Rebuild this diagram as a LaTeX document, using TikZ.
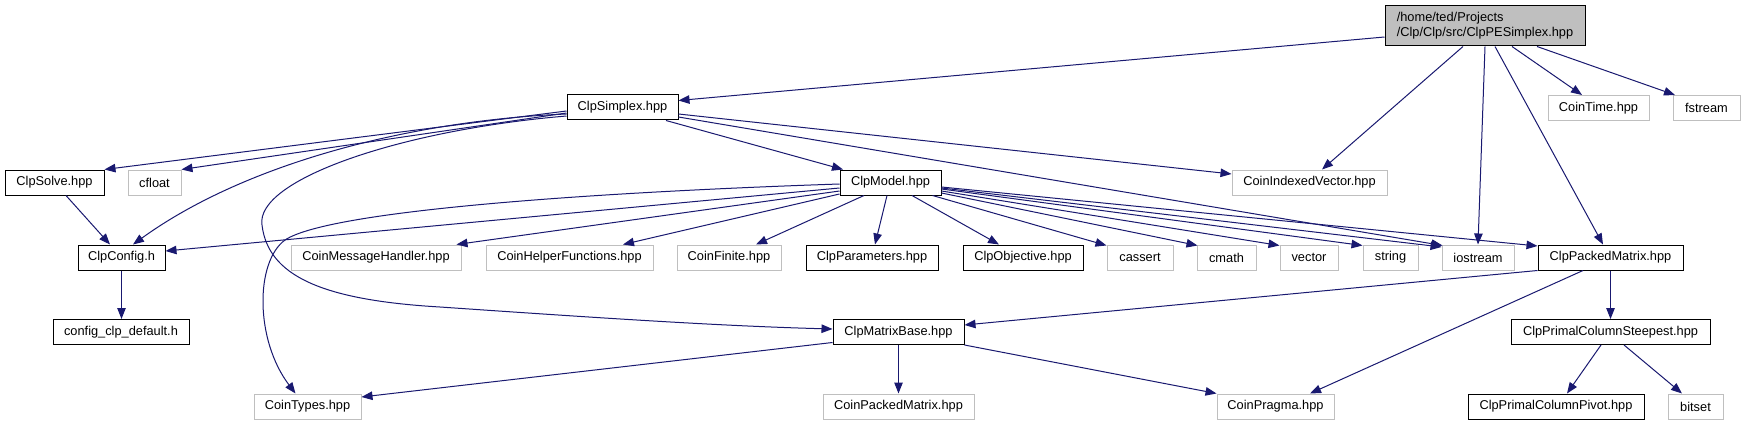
\documentclass[tikz,border=0pt]{standalone}
\usepackage{fontspec}
\setmainfont{Liberation Sans}
\usetikzlibrary{arrows.meta,calc}
\definecolor{edgeblue}{HTML}{191970}
\definecolor{greyb}{HTML}{BFBFBF}
\begin{document}
\begin{tikzpicture}[x=1pt,y=-1pt,
  box/.style={rectangle, inner sep=0pt, minimum height=25pt, font=\fontsize{12.8}{15}\selectfont, text=black, fill=white, line width=1pt},
  docbox/.style={box, draw=black},
  undocbox/.style={box, draw=greyb},
  rootbox/.style={box, draw=black, fill=greyb, minimum height=40pt, align=left},
  dep/.style={draw=edgeblue, line width=1pt, -{Triangle[length=11pt,width=8.5pt]}},
]
\useasboundingbox (0,0) rectangle (1745,425);
\fill[white] (0,0) rectangle (1745,425);

% rank 0
\node[rootbox, minimum width=200pt] (root) at (1485,26) {/home/ted/Projects\\/Clp/Clp/src/ClpPESimplex.hpp};
% rank 1
\node[docbox, minimum width=111pt] (simplex) at (622.5,107.5) {ClpSimplex.hpp};
\node[undocbox, minimum width=101pt] (cointime) at (1598.5,108) {CoinTime.hpp};
\node[undocbox, minimum width=67pt] (fstream) at (1706.5,108) {fstream};
% rank 2
\node[docbox, minimum width=99pt] (solve) at (54.5,182.5) {ClpSolve.hpp};
\node[undocbox, minimum width=53pt] (cfloat) at (154.5,182.5) {cfloat};
\node[docbox, minimum width=101pt] (model) at (890.5,182.5) {ClpModel.hpp};
\node[undocbox, minimum width=155pt] (civ) at (1309.5,182.5) {CoinIndexedVector.hpp};
% rank 3
\node[docbox, minimum width=87pt] (config) at (121.5,257.5) {ClpConfig.h};
\node[undocbox, minimum width=170pt] (cmh) at (376,257.5) {CoinMessageHandler.hpp};
\node[undocbox, minimum width=167pt] (chf) at (569.5,257.5) {CoinHelperFunctions.hpp};
\node[undocbox, minimum width=104pt] (cfin) at (729,257.5) {CoinFinite.hpp};
\node[docbox, minimum width=132pt] (params) at (872,257.5) {ClpParameters.hpp};
\node[docbox, minimum width=120pt] (obj) at (1023,257.5) {ClpObjective.hpp};
\node[undocbox, minimum width=66pt] (cassert) at (1140,257.5) {cassert};
\node[undocbox, minimum width=59pt] (cmath) at (1226.5,257.5) {cmath};
\node[undocbox, minimum width=58pt] (vector) at (1309,257.5) {vector};
\node[undocbox, minimum width=55pt] (string) at (1390.5,257.5) {string};
\node[undocbox, minimum width=72pt] (iostream) at (1478,257.5) {iostream};
\node[docbox, minimum width=145pt] (cpm) at (1610.5,257.5) {ClpPackedMatrix.hpp};
% rank 4
\node[docbox, minimum width=136pt] (cfgdef) at (121,332) {config\_clp\_default.h};
\node[docbox, minimum width=131pt] (mb) at (898.5,332) {ClpMatrixBase.hpp};
\node[docbox, minimum width=199pt] (steep) at (1610.5,332) {ClpPrimalColumnSteepest.hpp};
% rank 5
\node[undocbox, minimum width=107pt] (types) at (307.5,406.5) {CoinTypes.hpp};
\node[undocbox, minimum width=151pt] (coinpm) at (898.5,406.5) {CoinPackedMatrix.hpp};
\node[undocbox, minimum width=117pt] (pragma) at (1275.5,406.5) {CoinPragma.hpp};
\node[docbox, minimum width=176pt] (pivot) at (1556,406.5) {ClpPrimalColumnPivot.hpp};
\node[undocbox, minimum width=55pt] (bitset) at (1695.5,406.5) {bitset};

% edges from root
\draw[dep] ($(root.west)+(0,11)$) -- ($(simplex.east)+(0,-7)$);
\draw[dep] ($(root.south)+(-22,0)$) -- ($(civ.north)+(12.5,0)$);
\draw[dep] (root.south) -- (iostream.north);
\draw[dep] ($(root.south)+(10,0)$) -- ($(cpm.north)+(-7.5,0)$);
\draw[dep] ($(root.south)+(27,0)$) -- ($(cointime.north)+(-16.5,0)$);
\draw[dep] ($(root.south)+(52,0)$) -- ($(fstream.north)+(-31.5,0)$);

% edges from ClpSimplex
\draw[dep] ($(simplex.west)+(0,3.5)$) -- (solve.north east);
\draw[dep] ($(simplex.west)+(0,5.5)$) -- (cfloat.north east);
\draw[dep] ($(simplex.west)+(0,6.5)$) .. controls (420,120) and (250,160) .. ($(config.north)+(11.5,0)$);
\draw[dep] ($(simplex.west)+(0,8.5)$) .. controls (400,130) and (255,180) .. (262,225)
  .. controls (268,275) and (320,300) .. (440,307)
  .. controls (600,318) and (720,326) .. ($(mb.west)+(0,-3)$);
\draw[dep] ($(simplex.south)+(43.5,0)$) -- ($(model.north)+(-47.5,0)$);
\draw[dep] ($(simplex.east)+(0,6.5)$) -- ($(civ.west)+(0,-8.5)$);
\draw[dep] ($(simplex.east)+(0,9.5)$) -- ($(iostream.north west)+(1,1)$);

% ClpSolve, ClpConfig
\draw[dep] ($(solve.south)+(11.5,0)$) -- ($(config.north)+(-11.5,0)$);
\draw[dep] (config.south) -- (config.south |- cfgdef.north);

% edges from ClpModel
\draw[dep] ($(model.west)+(0,1.5)$) .. controls (600,192) and (330,210) .. (285,240)
  .. controls (255,262) and (255,340) .. ($(types.north)+(-12,0)$);
\draw[dep] ($(model.west)+(0,5.5)$) -- ($(config.east)+(0,-6.5)$);
\draw[dep] ($(model.west)+(0,8.5)$) -- ($(cmh.north east)+(-5,0)$);
\draw[dep] ($(model.west)+(0,11.5)$) -- ($(chf.north)+(53.5,0)$);
\draw[dep] ($(model.south)+(-26.5,0)$) -- ($(cfin.north)+(27,0)$);
\draw[dep] ($(model.south)+(-3.5,0)$) -- ($(params.north)+(3,0)$);
\draw[dep] ($(model.south)+(21.5,0)$) -- ($(obj.north)+(-24,0)$);
\draw[dep] ($(model.south east)+(-9,0)$) -- ($(cassert.north west)+(0,1)$);
\draw[dep] ($(model.east)+(0,10.5)$) -- ($(cmath.north west)+(1,1)$);
\draw[dep] ($(model.east)+(0,8.5)$) -- ($(vector.north west)+(0,1)$);
\draw[dep] ($(model.east)+(0,6.5)$) -- ($(string.north west)+(0,1)$);
\draw[dep] ($(model.east)+(0,5.5)$) -- ($(iostream.north west)+(0,2.5)$);
\draw[dep] ($(model.east)+(0,4.5)$) -- ($(cpm.north west)+(0,1.5)$);

% edges from ClpPackedMatrix
\draw[dep] (cpm.south west) -- ($(mb.east)+(0,-7)$);
\draw[dep] ($(cpm.south)+(-27.5,0)$) -- ($(pragma.north)+(34.5,0)$);
\draw[dep] (cpm.south) -- (cpm.south |- steep.north);

% edges from ClpPrimalColumnSteepest
\draw[dep] ($(steep.south)+(-9.5,0)$) -- ($(pivot.north)+(11,0)$);
\draw[dep] ($(steep.south)+(13.5,0)$) -- ($(bitset.north)+(-13.5,0)$);

% edges from ClpMatrixBase
\draw[dep] ($(mb.south west)+(0,-2.5)$) -- ($(types.east)+(0,-9.5)$);
\draw[dep] (mb.south) -- (mb.south |- coinpm.north);
\draw[dep] (mb.south east) -- (pragma.north west);
\end{tikzpicture}
\end{document}
